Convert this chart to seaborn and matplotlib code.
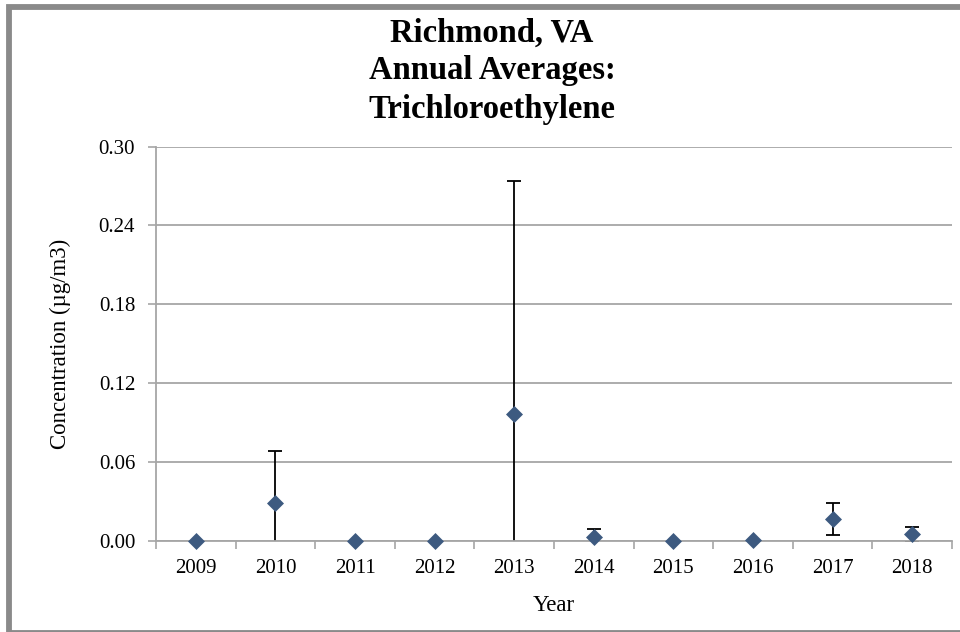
import matplotlib
matplotlib.use("Agg")
import matplotlib.pyplot as plt
from matplotlib.patches import Rectangle
from matplotlib.ticker import FixedLocator, NullFormatter
import numpy as np
import pandas as pd
import seaborn as sns

# --- Data ---
years = ["2009", "2010", "2011", "2012", "2013", "2014", "2015", "2016", "2017", "2018"]
means = [0.0, 0.0287, 0.0, 0.0, 0.0962, 0.003, 0.0, 0.001, 0.0165, 0.005]
errors = [0.0, 0.0398, 0.0, 0.0, 0.1775, 0.006, 0.0, 0.0, 0.0123, 0.006]
y_ticks = [0.00, 0.06, 0.12, 0.18, 0.24, 0.30]

df = pd.DataFrame({"Year": years, "Mean": means, "Err": errors})
df["pos"] = np.arange(len(df))

sns.set_theme(style="white")
plt.rcParams["font.family"] = ["Liberation Serif", "DejaVu Serif"]
plt.rcParams["text.color"] = "black"
plt.rcParams["axes.labelcolor"] = "black"

fig = plt.figure(figsize=(9.6, 6.32), dpi=100)
ax = fig.add_axes([156 / 960, 1 - 541 / 632, (952 - 156) / 960, (541 - 146.5) / 632])

grid_col = "#a6a6a6"
marker_col = "#3d5a80"

# error bars (Excel style: lower part clipped at the axis)
bars = df[df["Err"] > 0]
ax.errorbar(bars["pos"], bars["Mean"], yerr=bars["Err"], fmt="none",
            ecolor="black", elinewidth=1.3, capsize=4.7, capthick=1.3, zorder=2)

sns.scatterplot(data=df, x="pos", y="Mean", marker="D", color=marker_col,
                s=75, linewidth=0, ax=ax, zorder=3, clip_on=False, legend=False)

ax.set_xlim(-0.5, len(years) - 0.5)
ax.set_ylim(0, 0.30)
ax.set_yticks(y_ticks)
ax.set_yticklabels([f"{t:.2f}" for t in y_ticks])
ax.yaxis.grid(True, color=grid_col, linewidth=1.3)
ax.set_axisbelow(True)

ax.set_xticks(df["pos"])
ax.set_xticklabels(years)
ax.xaxis.set_minor_locator(FixedLocator(np.arange(-0.5, len(years), 1.0)))
ax.xaxis.set_minor_formatter(NullFormatter())
ax.tick_params(axis="x", which="major", length=0, pad=13, labelsize=15, labelcolor="black")
ax.tick_params(axis="x", which="minor", bottom=True, length=6, width=1.2, color=grid_col, direction="out")
ax.tick_params(axis="y", left=True, length=6, width=1.2, color=grid_col, direction="out",
               pad=9, labelsize=15, labelcolor="black")

for side in ["top", "right"]:
    ax.spines[side].set_visible(False)
for side in ["left", "bottom"]:
    ax.spines[side].set_color(grid_col)
    ax.spines[side].set_linewidth(1.3)

ax.set_xlabel("Year", fontsize=16.5, labelpad=12)
ax.set_ylabel("Concentration (µg/m3)", fontsize=16.5, labelpad=20)

fig.text(492 / 960, 1 - 71 / 632, "Richmond, VA\nAnnual Averages:\nTrichloroethylene",
         ha="center", va="center", multialignment="center", fontsize=23.5,
         fontweight="bold", linespacing=1.3, color="black")

# grey frame round the chart area
frame = Rectangle((9.3 / 960, -0.5 / 632), 1.05, (632 - 6.5) / 632,
                  transform=fig.transFigure, fill=False, edgecolor="#8a8a8a",
                  linewidth=4.2, zorder=10)
fig.patches.append(frame)

fig.savefig("out.png", dpi=100)
